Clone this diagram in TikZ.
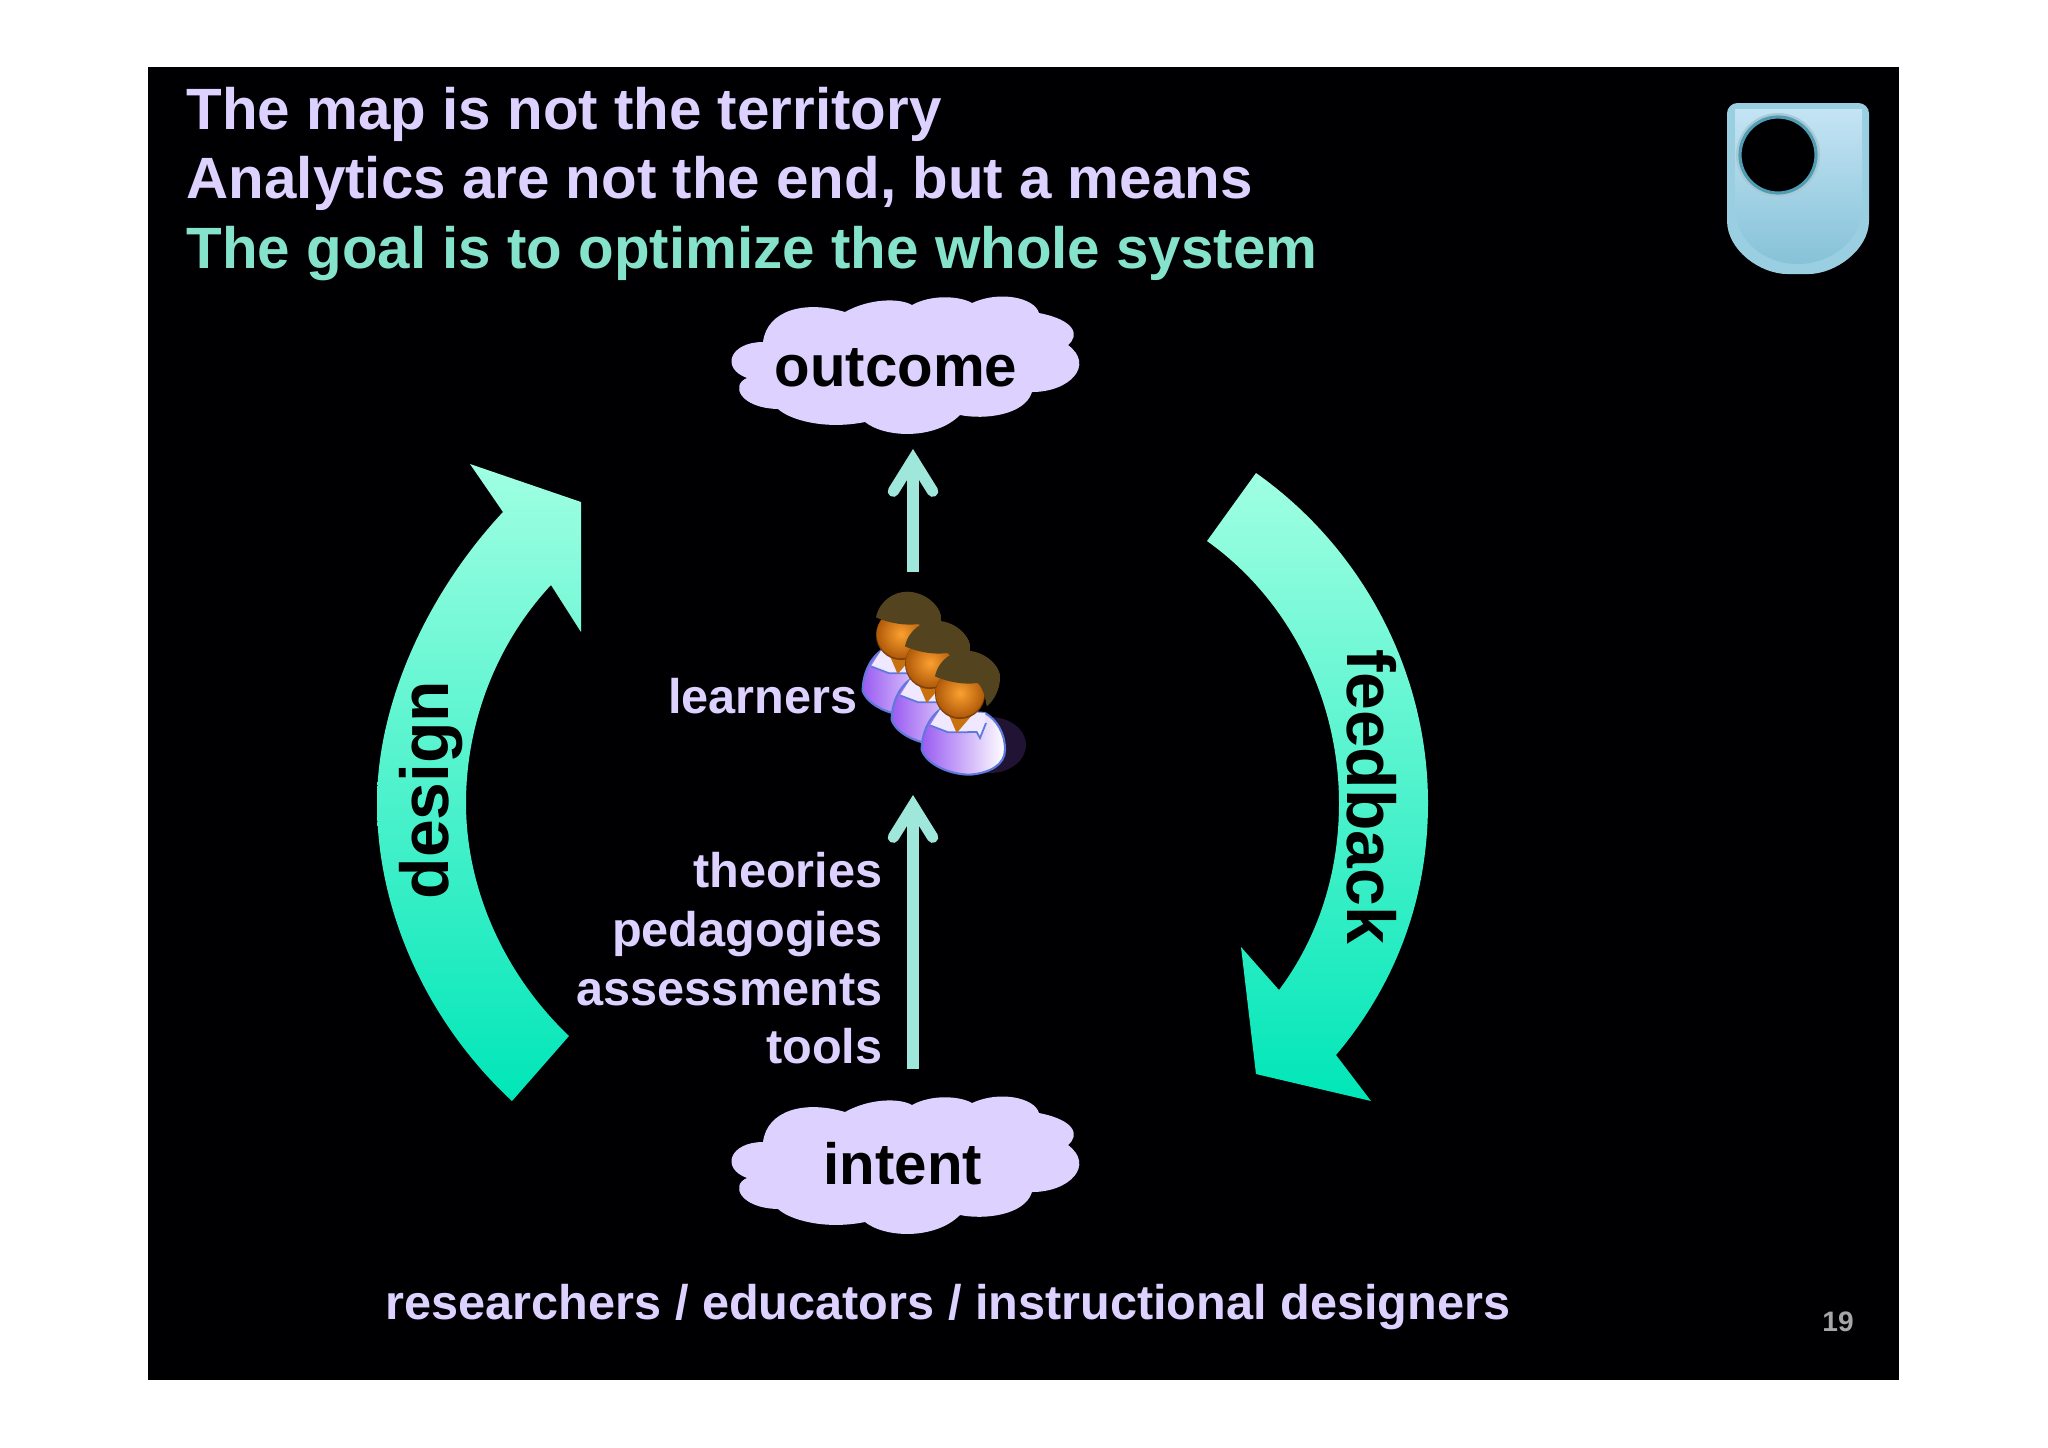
\documentclass[tikz,border=0pt]{standalone}
\usepackage{fontspec}
\setmainfont{Liberation Sans}
\usetikzlibrary{%
  arrows.meta,%
  calc%
}
\definecolor{slideblack}{HTML}{000002}
\definecolor{lilac}{HTML}{DDD1FF}
\definecolor{mint}{HTML}{85E3CB}
\definecolor{stemmint}{HTML}{9FE7DB}
\definecolor{sweeptop}{HTML}{A0FFE2}
\definecolor{sweepbot}{HTML}{00E6B8}
\definecolor{shieldedge}{HTML}{9ACFE2}
\definecolor{shieldtop}{HTML}{C4E4F4}
\definecolor{shieldmid}{HTML}{D4EEFB}
\definecolor{shieldbot}{HTML}{86C2D8}
\definecolor{shieldring}{HTML}{4F9DB2}
\definecolor{shieldhalo}{HTML}{A9C9D6}
\definecolor{shirtdark}{HTML}{9A5CF2}
\definecolor{shirtedge}{HTML}{5F78DC}
\definecolor{shirtpale}{HTML}{EFE8FF}
\definecolor{hairbrown}{HTML}{54431F}
\definecolor{skinlight}{HTML}{FBA030}
\definecolor{skindark}{HTML}{B05A0A}
\definecolor{necktone}{HTML}{C9700F}
\tikzset{>=latex, x=0.01cm, y=-0.01cm,
  titletext/.style = {inner sep=0pt, anchor=base west, font=\fontsize{16.58}{16.58}\selectfont\bfseries},
  smalltext/.style = {inner sep=0pt, lilac, font=\fontsize{13.83}{16.65}\selectfont\bfseries},
  cloudlabel/.style = {black, anchor=base, font=\fontsize{16.55}{16.55}\selectfont\bfseries},
  sweeplabel/.style = {black, font=\fontsize{19.3}{19.3}\selectfont\bfseries},
  stem/.style = {stemmint, line width=3.2pt, -{Straight Barb[length=9pt,width=11.2pt,line width=3.2pt,line cap=round,line join=miter]}},
  sweep/.style = {top color=sweeptop, bottom color=sweepbot},
  cloudshape/.pic = {
    \fill[lilac] (53,62) .. controls (57,30) and (95,20) .. (135,32)
      .. controls (160,18) and (190,18) .. (202,25)
      .. controls (222,14) and (250,16) .. (262,23)
      .. controls (290,10) and (325,18) .. (329,33)
      .. controls (365,40) and (370,55) .. (358,65)
      .. controls (385,85) and (360,112) .. (322,112)
      .. controls (315,135) and (275,140) .. (250,135)
      .. controls (225,160) and (175,158) .. (155,142)
      .. controls (115,150) and (80,140) .. (68,129)
      .. controls (30,128) and (20,105) .. (37,98)
      .. controls (10,88) and (20,62) .. (53,62) -- cycle;
  },
  person/.pic = {
    \path[shade, shading angle=35, left color=shirtdark, right color=white,
      draw=shirtedge, line width=0.6pt]
      (-60,50) .. controls (-100,80) and (-115,130) .. (-115,170)
      .. controls (-100,215) and (-30,245) .. (30,245)
      .. controls (90,240) and (135,215) .. (135,170)
      .. controls (135,120) and (110,80) .. (75,60) -- cycle;
    \fill[shirtpale] (-90,97) -- (-35,118) -- (50,117) -- (60,135) -- (78,90) -- (75,60) -- (-60,50) -- cycle;
    \draw[shirtedge, line width=0.5pt] (-90,97) -- (-35,118) -- (50,117) -- (60,135) -- (78,90);
    \fill[necktone] (-40,50) -- (50,50) -- (-10,120) -- cycle;
    \fill[skindark!70!black] (0,3) circle (75);
    \shade[inner color=skinlight, outer color=skindark] (0,0) circle (73);
    \fill[hairbrown] (-75,-50) .. controls (-65,-100) and (-20,-128) .. (20,-127)
      .. controls (85,-125) and (125,-70) .. (120,-45)
      .. controls (120,-10) and (100,25) .. (80,40)
      .. controls (75,0) and (60,-30) .. (50,-30)
      .. controls (20,-25) and (-30,-30) .. (-75,-50) -- cycle;
  }
}

\begin{document}
\begin{tikzpicture}
  \useasboundingbox (0,0) rectangle (2048,1447);
  \fill[white] (0,0) rectangle (2048,1447);
  \fill[slideblack] (148,67) rectangle (1899,1380);

  \node[titletext,lilac] (line1) at (186,129) {The map is not the territory};
  \node[titletext,lilac] (line2) at (186,198) {Analytics are not the end, but a means};
  \node[titletext,mint] (line3) at (186,268) {The goal is to optimize the whole system};

  % logo
  \fill[shieldedge, rounded corners=3pt]
    (1727,103) -- (1869,103) -- (1869,210)
    .. controls (1869,250) and (1835,274) .. (1798,274)
    .. controls (1760,274) and (1727,250) .. (1727,210) -- cycle;
  \shade[top color=shieldtop, middle color=shieldmid, bottom color=shieldbot]
    (1735,109) -- (1862,109) -- (1862,210)
    .. controls (1860,242) and (1830,264) .. (1798,264)
    .. controls (1765,264) and (1737,242) .. (1735,210) -- cycle;
  \fill[shieldhalo] (1778,155) circle (42);
  \fill[slideblack, draw=shieldring, line width=0.9pt] (1778,155) circle (38);

  % clouds
  \pic at (710,280) {cloudshape};
  \pic at (710,1080) {cloudshape};
  \node[cloudlabel] (outcome) at (896,386) {outcome};
  \node[cloudlabel] (intent) at (903,1184) {intent};

  % sweeps
  \path[sweep] (470,464) -- (581,502) -- (581,632) -- (551,585)
    .. controls (495,645) and (466,725) .. (466,803)
    .. controls (466,890) and (505,975) .. (569,1036)
    -- (512,1101)
    .. controls (430,1025) and (377,915) .. (377,803)
    .. controls (377,700) and (430,590) .. (503,512) -- cycle;
  \path[sweep] (1256,473)
    .. controls (1365,550) and (1428,675) .. (1428,803)
    .. controls (1428,900) and (1395,985) .. (1336,1055)
    -- (1371,1101) -- (1256,1074) -- (1241,947) -- (1279,990)
    .. controls (1320,935) and (1339,870) .. (1339,803)
    .. controls (1339,700) and (1290,600) .. (1207,541) -- cycle;
  \node[sweeplabel,rotate=90] (design) at (431,790) {design};
  \node[sweeplabel,rotate=-90] (feedback) at (1372,797) {feedback};

  % learners
  \fill[shirtdark!30!black, opacity=0.7] (990,745) ellipse (36 and 28);
  \pic[scale=1/3] at (901,634) {person};
  \pic[scale=1/3] at (930,663) {person};
  \pic[scale=1/3] at (960,693) {person};
  \node[smalltext,anchor=east] (learners) at (858,696) {learners};

  % stems
  \coordinate (uptail) at (913,572);
  \coordinate (uptip) at (913,449);
  \coordinate (lowtail) at (913,1069);
  \coordinate (lowtip) at (913,795);
  \draw[stem] (uptail) -- (uptip);
  \draw[stem] (lowtail) -- (lowtip);

  \node[smalltext,anchor=north east,align=right] (inputs) at (883,852)
    {theories\\pedagogies\\assessments\\tools};
  \node[smalltext,anchor=base] (people) at (948,1319) {researchers / educators / instructional designers};
  \node[anchor=base, text=black!35!white, font=\fontsize{8}{8}\selectfont\bfseries] (pagenum) at (1838,1331) {19};
\end{tikzpicture}
\end{document}
